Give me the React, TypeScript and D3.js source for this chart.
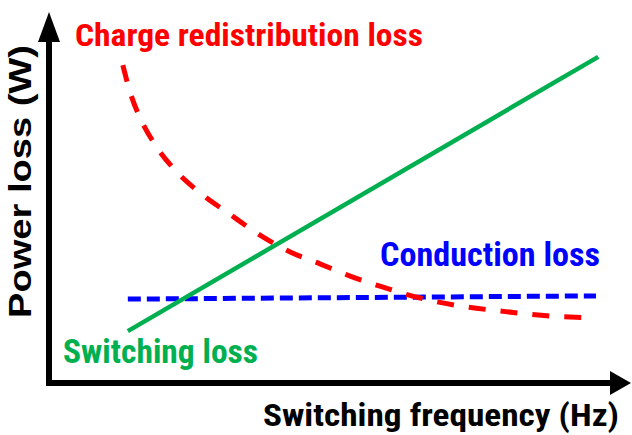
import React from "react";
import * as d3 from "d3";

// Abstract units (no ticks on the original)
const redX = [1.3, 1.43, 1.61, 1.88, 2.23, 2.68, 3.21, 3.75, 4.29, 4.82, 5.36, 5.89, 6.61, 7.32, 8.04, 8.93, 9.75];
const redY = [8.83, 8.08, 7.36, 6.61, 5.92, 5.28, 4.69, 4.11, 3.64, 3.31, 2.97, 2.69, 2.36, 2.14, 2.0, 1.86, 1.81];
const greenX = [1.39, 9.79];
const greenY = [1.44, 9.06];
const blueX = [1.39, 9.75];
const blueY = [2.33, 2.42];

const labels = {
  red: "Charge redistribution loss",
  blue: "Conduction loss",
  green: "Switching loss",
  xAxis: "Switching frequency (Hz)",
  yAxis: "Power loss (W)",
};

const W = 632;
const H = 435;

export default function App() {
  const x = d3.scaleLinear().domain([0, 10]).range([50, 610]);
  const y = d3.scaleLinear().domain([0, 10]).range([383, 23]);

  const line = d3
    .line<[number, number]>()
    .x((d) => x(d[0]))
    .y((d) => y(d[1]))
    .curve(d3.curveMonotoneX);
  const straight = d3
    .line<[number, number]>()
    .x((d) => x(d[0]))
    .y((d) => y(d[1]));

  const red = redX.map((v, i) => [v, redY[i]] as [number, number]);
  const green = greenX.map((v, i) => [v, greenY[i]] as [number, number]);
  const blue = blueX.map((v, i) => [v, blueY[i]] as [number, number]);

  const ax0 = x(0) - 1;
  const ay0 = y(0);
  const narrow = "'Liberation Sans Narrow', 'Roboto Condensed', 'Arial Narrow', Roboto, 'Liberation Sans', sans-serif";
  const wide = "'Liberation Sans', Arial, sans-serif";

  return (
    <svg
      width={W}
      height={H}
      viewBox={`0 0 ${W} ${H}`}
      style={{ position: "absolute", left: 0, top: 0, display: "block", background: "#fff" }}
    >
      <rect width={W} height={H} fill="#fff" />
      {/* axes */}
      <line x1={ax0} y1={ay0 + 3} x2={ax0} y2={38} stroke="#000" strokeWidth={6} />
      <polygon points={`${ax0 - 11},${42} ${ax0 + 11},${42} ${ax0},${12}`} fill="#000" />
      <line x1={ax0 - 3} y1={ay0} x2={614} y2={ay0} stroke="#000" strokeWidth={6} />
      <polygon points={`${610},${ay0 - 12} ${610},${ay0 + 12} ${631},${ay0}`} fill="#000" />

      {/* series */}
      <path d={straight(blue) || ""} fill="none" stroke="#0000ff" strokeWidth={5} strokeDasharray="13 6" />
      <path d={line(red) || ""} fill="none" stroke="#ff0000" strokeWidth={5} strokeDasharray="17 15" />
      <path d={straight(green) || ""} fill="none" stroke="#00b050" strokeWidth={4.5} />

      {/* labels */}
      <text x={75} y={46} fill="#ff0000" fontFamily={narrow} fontWeight="bold" fontSize={31} textLength={348} lengthAdjust="spacingAndGlyphs">
        {labels.red}
      </text>
      <text x={380} y={266} fill="#0000ff" fontFamily={narrow} fontWeight="bold" fontSize={33} textLength={220} lengthAdjust="spacingAndGlyphs">
        {labels.blue}
      </text>
      <text x={63} y={363} fill="#00b050" fontFamily={narrow} fontWeight="bold" fontSize={33} textLength={195} lengthAdjust="spacingAndGlyphs">
        {labels.green}
      </text>
      <text x={263} y={426} fill="#000" fontFamily={narrow} fontWeight="bold" fontSize={31} textLength={356} lengthAdjust="spacingAndGlyphs">
        {labels.xAxis}
      </text>
      <text
        transform="translate(31,318) rotate(-90)"
        fill="#000"
        fontFamily={wide}
        fontWeight="bold"
        fontSize={31}
        textLength={273}
        lengthAdjust="spacingAndGlyphs"
      >
        {labels.yAxis}
      </text>
    </svg>
  );
}
